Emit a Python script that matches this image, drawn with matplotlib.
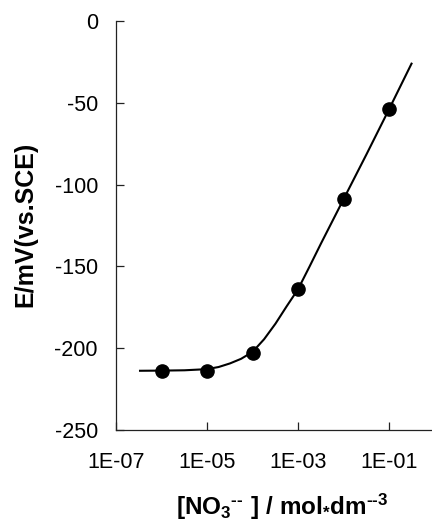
import matplotlib
matplotlib.use("Agg")
import matplotlib.pyplot as plt

plt.rcParams['font.family'] = ['Liberation Sans', 'DejaVu Sans']
plt.rcParams['mathtext.fontset'] = 'custom'
plt.rcParams['mathtext.rm'] = 'Liberation Sans:bold'
plt.rcParams['mathtext.bf'] = 'Liberation Sans:bold'
plt.rcParams['mathtext.default'] = 'bf'

# measured points
conc = [1e-6, 1e-5, 1e-4, 1e-3, 1e-2, 1e-1]
potential = [-213.7, -213.7, -202.7, -163.8, -109.0, -54.0]

# smooth fitted curve
curve_conc = [3.2e-7, 1e-6, 3.2e-6, 1e-5, 1.8e-5, 3.2e-5, 5.6e-5, 1e-4, 1.8e-4,
              3.2e-4, 5.6e-4, 1e-3, 1.8e-3, 3.2e-3, 1e-2, 3.2e-2, 1e-1, 3.2e-1]
curve_pot = [-213.8, -213.7, -213.5, -212.8, -211.5, -209.3, -206.5, -202.3, -194.5,
             -185.0, -174.5, -164.0, -150.0, -136.0, -109.0, -81.5, -54.0, -25.5]

xticks = [1e-7, 1e-5, 1e-3, 1e-1]
xtick_labels = ['1E-07', '1E-05', '1E-03', '1E-01']
yticks = [-250, -200, -150, -100, -50, 0]

fig = plt.figure(figsize=(4.32, 5.24), dpi=100)
ax = fig.add_axes([116/432, 94/524, 364/432, 409/524])

ax.plot(curve_conc, curve_pot, color='black', lw=1.5, solid_capstyle='butt')
ax.plot(conc, potential, 'o', color='black', markersize=9.5)

ax.set_xscale('log')
ax.set_xlim(1e-7, 1e1)
ax.set_ylim(-250, 0)
ax.set_xticks(xticks)
ax.set_xticklabels(xtick_labels)
ax.minorticks_off()
ax.set_yticks(yticks)
ax.set_yticklabels([str(v) for v in yticks])

for s in ['top', 'right']:
    ax.spines[s].set_visible(False)
for s in ['left', 'bottom']:
    ax.spines[s].set_linewidth(0.9)
    ax.spines[s].set_color('#222222')

ax.tick_params(axis='both', direction='in', length=6, width=0.9, color='#222222',
               labelsize=15.5, labelcolor='black')
ax.tick_params(axis='y', pad=13)
ax.tick_params(axis='x', pad=16)

fig.text(282/432, 1 - 507/524,
         r'[NO$_3$$^{\text{--}}$$\ $] / mol$_{*}$dm$^{\text{--}3}$',
         ha='center', va='center', fontsize=17.5, fontweight='bold')
fig.text(25/432, 1 - 224/524, 'E/mV(vs.SCE)', rotation=90,
         ha='center', va='center', fontsize=18, fontweight='bold')

fig.savefig('out.png', dpi=100)
